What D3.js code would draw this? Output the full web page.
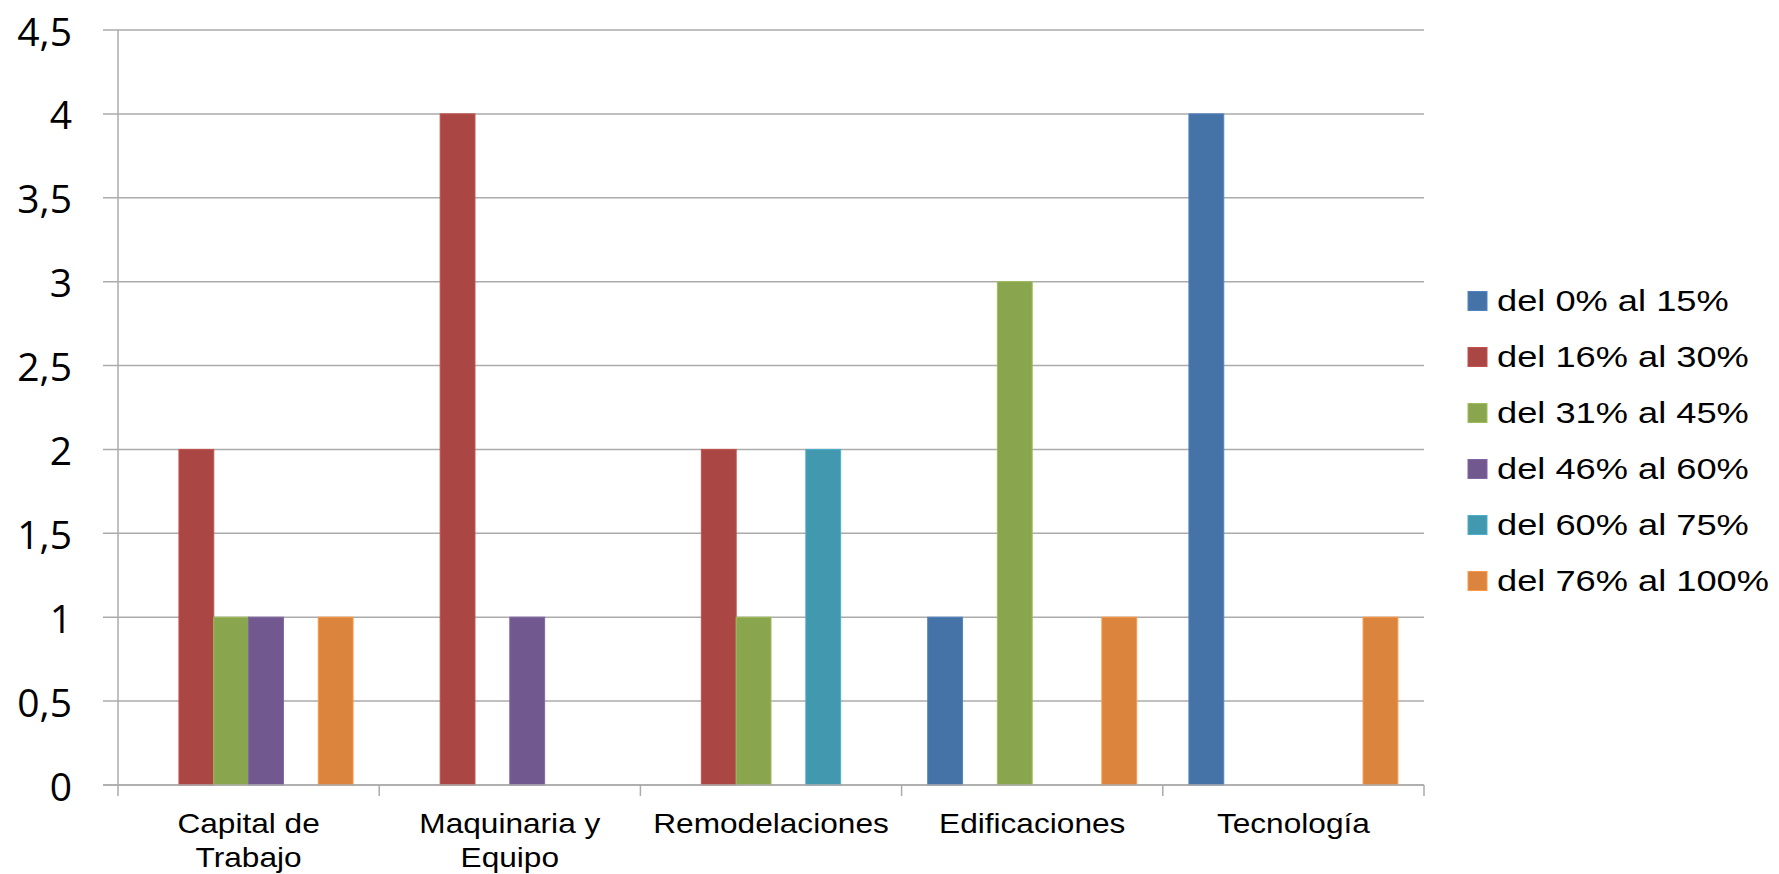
<!DOCTYPE html>
<html>
<head>
<meta charset="utf-8">
<script src="https://cdn.jsdelivr.net/npm/d3@7"></script>
<style>
  html, body { margin: 0; padding: 0; background: #fff; }
  svg { display: block; }
</style>
</head>
<body>
<svg id="chart" width="1779" height="874"></svg>
<script>
// Investment categories (x axis), wrapped onto lines as shown under the axis
const categories = ["Capital de Trabajo", "Maquinaria y Equipo", "Remodelaciones", "Edificaciones", "Tecnología"];
const categoryLines = [["Capital de", "Trabajo"], ["Maquinaria y", "Equipo"], ["Remodelaciones"], ["Edificaciones"], ["Tecnología"]];

// Percentage ranges (series)
const seriesNames = ["del 0% al 15%", "del 16% al 30%", "del 31% al 45%", "del 46% al 60%", "del 60% al 75%", "del 76% al 100%"];
const seriesColors = ["#4572A7", "#AA4643", "#89A54E", "#71588F", "#4198AF", "#DB843D"];

// Counts per category, one array per series
const s0to15   = [0, 0, 0, 1, 4];
const s16to30  = [2, 4, 2, 0, 0];
const s31to45  = [1, 0, 1, 3, 0];
const s46to60  = [1, 1, 0, 0, 0];
const s60to75  = [0, 0, 2, 0, 0];
const s76to100 = [1, 0, 0, 1, 1];
const seriesValues = [s0to15, s16to30, s31to45, s46to60, s60to75, s76to100];

// Y axis ticks
const yTicks = [0, 0.5, 1, 1.5, 2, 2.5, 3, 3.5, 4, 4.5];
const yTickLabels = ["0", "0,5", "1", "1,5", "2", "2,5", "3", "3,5", "4", "4,5"];

const svg = d3.select("#chart");
const plot = { left: 118, right: 1424, top: 30, bottom: 785 };
const gridColor = "#ababab";

const y = d3.scaleLinear().domain([0, 4.5]).range([plot.bottom, plot.top]);
const x0 = d3.scaleBand().domain(categories).range([plot.left, plot.right]).paddingInner(0).paddingOuter(0);
const x1 = d3.scaleBand().domain(d3.range(seriesNames.length)).range([0, x0.bandwidth()])
  .paddingInner(0).paddingOuter(0.75);

// Horizontal gridlines (extending left as tick marks)
svg.append("g").selectAll("line").data(yTicks).join("line")
  .attr("x1", plot.left - 15).attr("x2", plot.right)
  .attr("y1", d => y(d)).attr("y2", d => y(d))
  .attr("stroke", gridColor).attr("stroke-width", 1.5);

// Y tick labels
svg.append("g").selectAll("text").data(yTicks).join("text")
  .attr("x", 72).attr("y", d => y(d))
  .attr("text-anchor", "end").attr("dominant-baseline", "central")
  .attr("font-family", "'Open Sans', sans-serif").attr("font-size", 39)
  .attr("fill", "#000")
  .text((d, i) => yTickLabels[i]);

// Bars
const barData = [];
categories.forEach((c, ci) => {
  seriesValues.forEach((vals, si) => {
    if (vals[ci] > 0) barData.push({ c, si, v: vals[ci] });
  });
});
svg.append("g").selectAll("rect").data(barData).join("rect")
  .attr("x", d => x0(d.c) + x1(d.si))
  .attr("y", d => y(d.v))
  .attr("width", x1.bandwidth())
  .attr("height", d => y(0) - y(d.v))
  .attr("fill", d => seriesColors[d.si])
  .attr("stroke", d => d3.color(seriesColors[d.si]).brighter(0.4))
  .attr("stroke-width", 1);

// Vertical axis line
svg.append("line")
  .attr("x1", plot.left).attr("x2", plot.left)
  .attr("y1", plot.top).attr("y2", plot.bottom + 11)
  .attr("stroke", gridColor).attr("stroke-width", 1.5);

// Category axis baseline and boundary ticks
svg.append("line")
  .attr("x1", plot.left - 15).attr("x2", plot.right)
  .attr("y1", plot.bottom).attr("y2", plot.bottom)
  .attr("stroke", gridColor).attr("stroke-width", 1.5);
const boundaries = categories.map(c => x0(c) + x0.bandwidth());
svg.append("g").selectAll("line").data(boundaries).join("line")
  .attr("x1", d => d).attr("x2", d => d)
  .attr("y1", plot.bottom).attr("y2", plot.bottom + 11)
  .attr("stroke", gridColor).attr("stroke-width", 1.5);

// Category labels
const catG = svg.append("g");
categories.forEach((c, ci) => {
  const cx = x0(c) + x0.bandwidth() / 2;
  categoryLines[ci].forEach((line, li) => {
    catG.append("text")
      .attr("transform", `translate(${cx},${833 + li * 34}) scale(1.13,1)`)
      .attr("text-anchor", "middle")
      .attr("font-family", "'Liberation Sans', Arial, sans-serif").attr("font-size", 28)
      .attr("fill", "#000")
      .text(line);
  });
});

// Legend
const legend = svg.append("g");
seriesNames.forEach((name, i) => {
  const cy = 301 + i * 56;
  legend.append("rect")
    .attr("x", 1468).attr("y", cy - 9.5).attr("width", 19).attr("height", 19)
    .attr("fill", seriesColors[i])
    .attr("stroke", d3.color(seriesColors[i]).brighter(0.4)).attr("stroke-width", 1);
  legend.append("text")
    .attr("transform", `translate(1497,${cy + 10}) scale(1.25,1)`)
    .attr("font-family", "'Liberation Sans', Arial, sans-serif").attr("font-size", 29)
    .attr("fill", "#000")
    .text(name);
});
</script>
</body>
</html>
